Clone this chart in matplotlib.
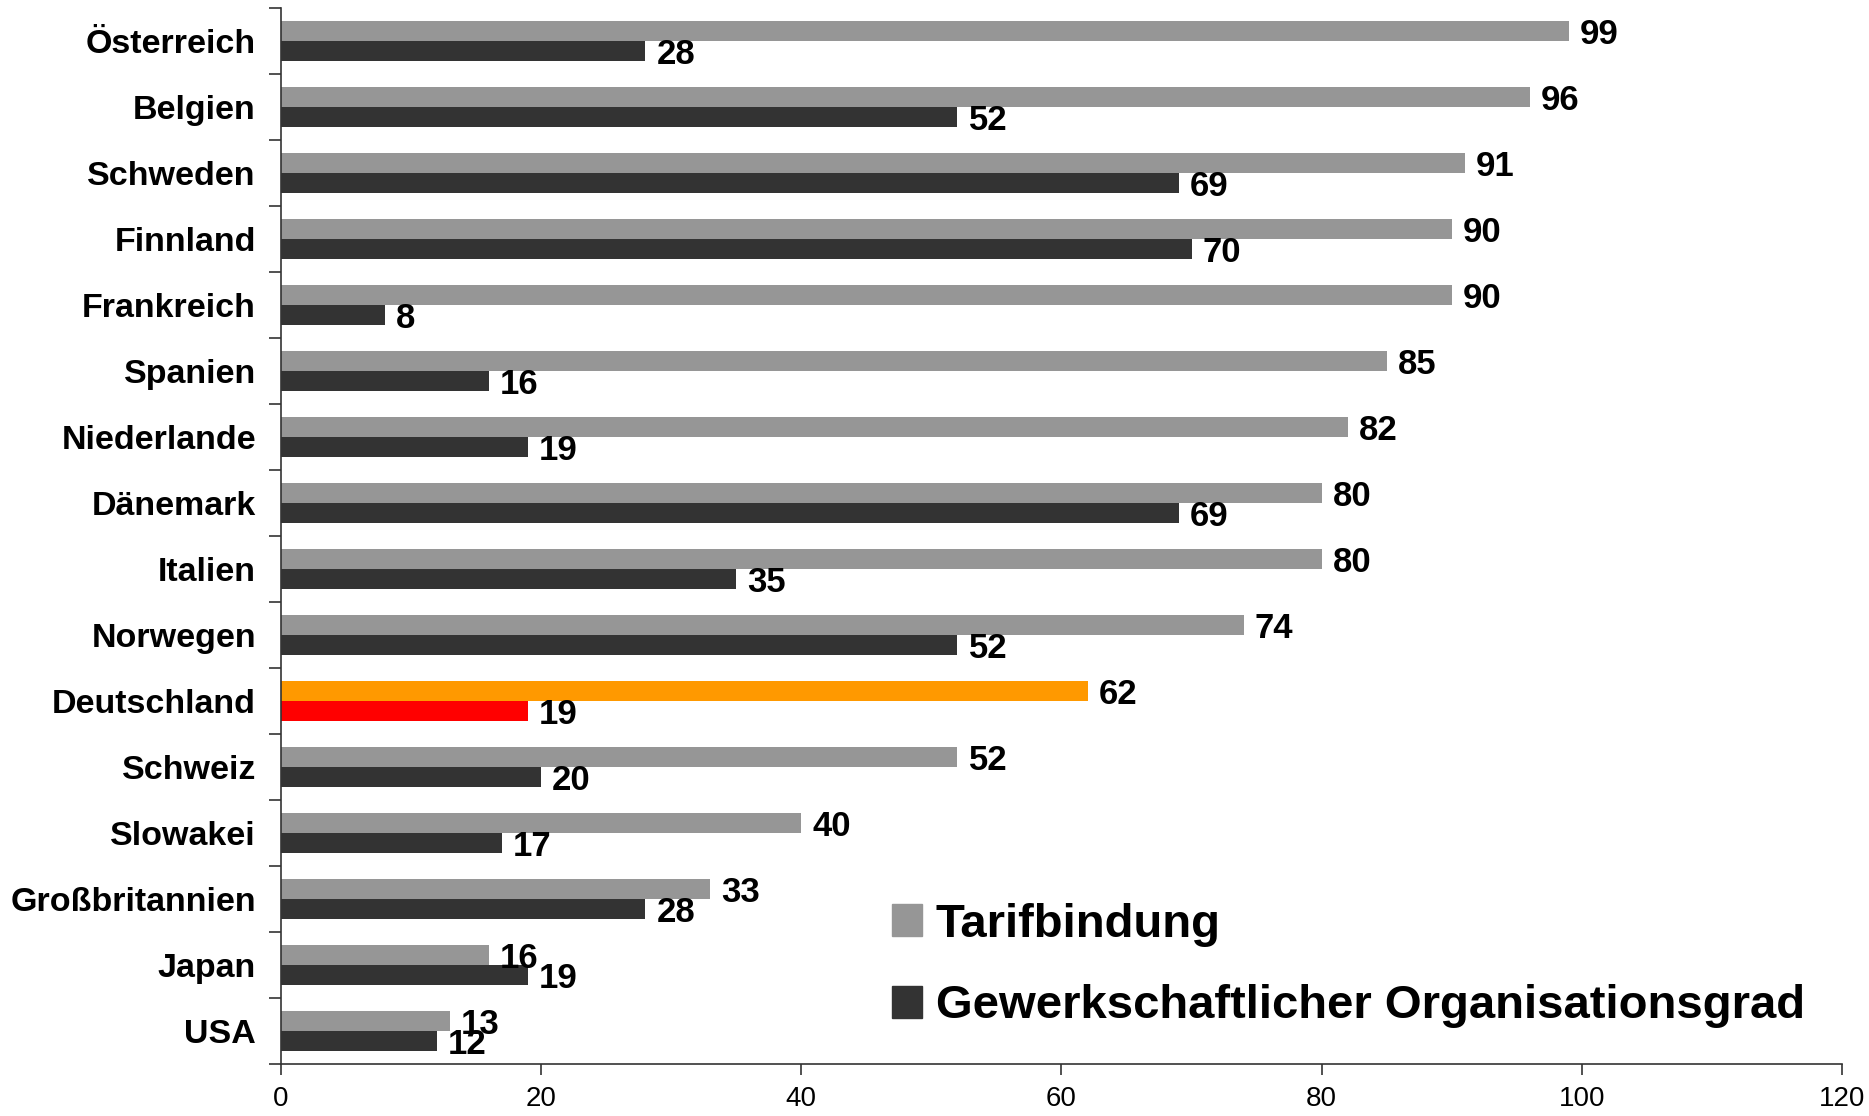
import matplotlib.pyplot as plt
import numpy as np
from matplotlib.patches import Patch

countries = ['Österreich', 'Belgien', 'Schweden', 'Finnland', 'Frankreich', 'Spanien',
             'Niederlande', 'Dänemark', 'Italien', 'Norwegen', 'Deutschland', 'Schweiz',
             'Slowakei', 'Großbritannien', 'Japan', 'USA']
tarif = [99, 96, 91, 90, 90, 85, 82, 80, 80, 74, 62, 52, 40, 33, 16, 13]
gewerk = [28, 52, 69, 70, 8, 16, 19, 69, 35, 52, 19, 20, 17, 28, 19, 12]
x_ticks = [0, 20, 40, 60, 80, 100, 120]

light = '#969696'
dark = '#333333'
tarif_colors = [light] * len(countries)
gewerk_colors = [dark] * len(countries)
# Deutschland highlighted
tarif_colors[10] = '#FF9900'
gewerk_colors[10] = '#FF0000'

plt.rcParams['font.family'] = ['Liberation Sans', 'DejaVu Sans']

fig = plt.figure(figsize=(18.69, 11.16), dpi=100)
ax = fig.add_axes([0.1503, 0.0466, 0.8353, 0.9462])

y = np.arange(len(countries))
h = 0.3
ax.barh(y - h / 2, tarif, height=h, color=tarif_colors)
ax.barh(y + h / 2, gewerk, height=h, color=gewerk_colors)

for i in range(len(countries)):
    ax.annotate(str(tarif[i]), (tarif[i], y[i] - h / 2), xytext=(8, -2.5),
                textcoords='offset points', va='center', ha='left',
                fontsize=25, fontweight='bold')
    ax.annotate(str(gewerk[i]), (gewerk[i], y[i] + h / 2), xytext=(8, -2.5),
                textcoords='offset points', va='center', ha='left',
                fontsize=25, fontweight='bold')

ax.set_xlim(0, 120)
ax.set_ylim(len(countries) - 0.5, -0.5)
ax.set_xticks(x_ticks)
ax.set_xticklabels([str(t) for t in x_ticks], fontsize=20)

# ticks on category boundaries, labels in the middle
ax.set_yticks(np.arange(len(countries) + 1) - 0.5)
ax.set_yticklabels([])
ax.set_yticks(y, minor=True)
ax.set_yticklabels(countries, minor=True, fontsize=24.5, fontweight='bold')
ax.tick_params(axis='y', which='minor', length=0, pad=18)
ax.tick_params(axis='y', which='major', length=9, width=1.2, color=dark)
ax.tick_params(axis='x', length=8, width=1.2, color=dark, pad=8)

for s in ['top', 'right']:
    ax.spines[s].set_visible(False)
for s in ['left', 'bottom']:
    ax.spines[s].set_color(dark)
    ax.spines[s].set_linewidth(1.2)

handles = [Patch(color=light), Patch(color=dark)]
fig.legend(handles, ['Tarifbindung', 'Gewerkschaftlicher Organisationsgrad'],
           loc='center left', bbox_to_anchor=(0.4773, 0.1348), frameon=False,
           prop={'size': 34, 'weight': 'bold'}, handlelength=0.64, handleheight=0.66,
           handletextpad=0.28, labelspacing=0.8, borderpad=0, borderaxespad=0)

fig.savefig('out.png', dpi=100)
